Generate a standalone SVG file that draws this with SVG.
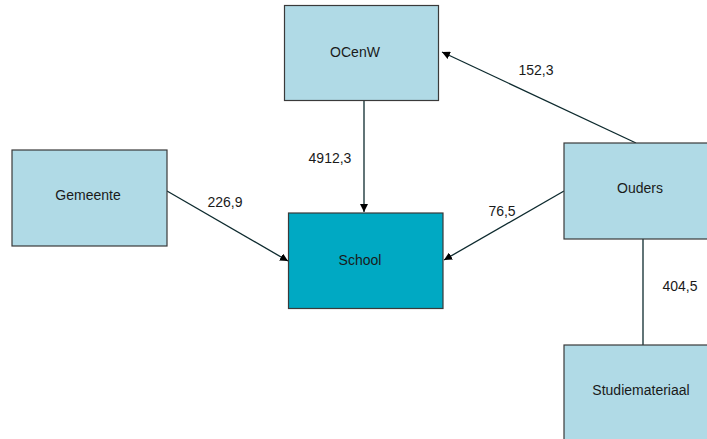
<svg xmlns="http://www.w3.org/2000/svg" width="707" height="439" viewBox="0 0 707 439">
<defs>
<style>
.box{fill:#b0dae6;stroke:#3a3a3a;stroke-width:1.2}
.main{fill:#00a9c3;stroke:#3a3a3a;stroke-width:1.2}
.t{font-family:"Liberation Sans",Arial,sans-serif;font-size:14px;fill:#1a1a1a;text-anchor:middle;dominant-baseline:central}
.e{stroke:#0d2a2e;stroke-width:1.3;fill:none}
</style>
<marker id="ah" viewBox="0 0 10 10" refX="10" refY="5" markerWidth="8" markerHeight="8" orient="auto" markerUnits="userSpaceOnUse">
<path d="M0,0 L10,5 L0,10 z" fill="#000"/>
</marker>
</defs>
<rect width="707" height="439" fill="#fff"/>
<g id="connectors">
<line class="e" x1="636" y1="143" x2="442" y2="52" marker-end="url(#ah)"/>
<line class="e" x1="364" y1="101" x2="364" y2="212" marker-end="url(#ah)"/>
<line class="e" x1="167" y1="191" x2="288" y2="261" marker-end="url(#ah)"/>
<line class="e" x1="564" y1="191" x2="444" y2="260" marker-end="url(#ah)"/>
<line class="e" x1="643" y1="239" x2="643" y2="345"/>
<text class="t" x="536" y="70">152,3</text>
<text class="t" x="330" y="158">4912,3</text>
<text class="t" x="225" y="202">226,9</text>
<text class="t" x="502" y="211">76,5</text>
<text class="t" x="680" y="286">404,5</text>
</g>
<g id="ocenw">
<rect class="box" x="284.5" y="5.5" width="154" height="95"/>
<text class="t" x="355" y="52">OCenW</text>
</g>
<g id="gemeente">
<rect class="box" x="12" y="150" width="155" height="96"/>
<text class="t" x="88" y="195">Gemeente</text>
</g>
<g id="school">
<rect class="main" x="288.5" y="213" width="154.5" height="95.5"/>
<text class="t" x="360" y="260">School</text>
</g>
<g id="ouders">
<rect class="box" x="564" y="143" width="155" height="96"/>
<text class="t" x="640" y="188">Ouders</text>
</g>
<g id="studiemateriaal">
<rect class="box" x="564" y="345" width="155" height="96"/>
<text class="t" x="641" y="390">Studiemateriaal</text>
</g>
</svg>
